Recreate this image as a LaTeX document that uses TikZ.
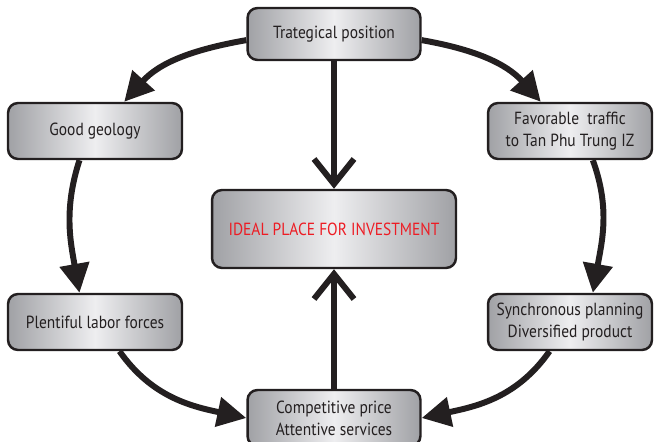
\documentclass[tikz,border=0pt]{standalone}
\usepackage{fontspec}
\setmainfont[FakeStretch=0.88]{PT Sans}
\usetikzlibrary{arrows.meta}
\definecolor{inkgray}{RGB}{35,31,32}
\definecolor{boxedge}{RGB}{160,161,165}
\definecolor{boxmid}{RGB}{238,238,240}
\definecolor{idealred}{RGB}{237,28,36}

\begin{document}
\begin{tikzpicture}[x=0.02cm, y=0.02cm,
    every node/.style={font=\fontsize{10}{12.5}\selectfont, text=inkgray, align=center},
    factor/.style={draw=inkgray, line width=1.4pt, rounded corners=0.2cm,
        left color=boxedge, right color=boxedge, middle color=boxmid,
        minimum width=3.46cm, minimum height=1.12cm, inner sep=2pt},
    flow/.style={draw=inkgray, line width=3.4pt, -{Triangle[length=0.58cm, width=0.58cm]}},
    lead/.style={draw=inkgray, line width=3.4pt, -{Straight Barb[length=0.5cm, width=0.8cm]}}]
    \useasboundingbox (0,0) rectangle (655,-442);

    % factors
    \node[factor, minimum height=1.04cm] (strategic) at (334,-34) {Trategical position};
    \node[factor, minimum width=3.48cm] (geology) at (95,-131) {Good geology};
    \node[factor, minimum width=3.28cm] (traffic) at (570,-131) {Favorable\ \ traffic\\to Tan Phu Trung IZ};
    \node[factor, minimum width=3.48cm] (labor) at (95,-322) {Plentiful labor forces};
    \node[factor, minimum width=3.28cm] (planning) at (570,-322) {Synchronous planning\\Diversified product};
    \node[factor] (price) at (334,-418) {Competitive price\\Attentive services};

    % goal
    \node[factor, minimum width=4.88cm, minimum height=1.56cm, text=idealred] (ideal) at (334,-229) {IDEAL PLACE FOR INVESTMENT};

    % ring
    \draw[flow] (strategic.184) to[out=190, in=48] (geology.45);
    \draw[flow] (strategic.-4) to[out=-10, in=132] (traffic.135);
    \draw[flow] (geology.-118) to[out=-108, in=100] (labor.118);
    \draw[flow] (traffic.-52) to[out=-70, in=80] (planning.52);
    \draw[flow] (labor.-50) to[out=-55, in=168] (price.west);
    \draw[flow] (planning.-125) to[out=-125, in=12] (price.east);

    % to the goal
    \draw[lead] (strategic) -- (ideal);
    \draw[lead] (price) -- (ideal);
\end{tikzpicture}
\end{document}
